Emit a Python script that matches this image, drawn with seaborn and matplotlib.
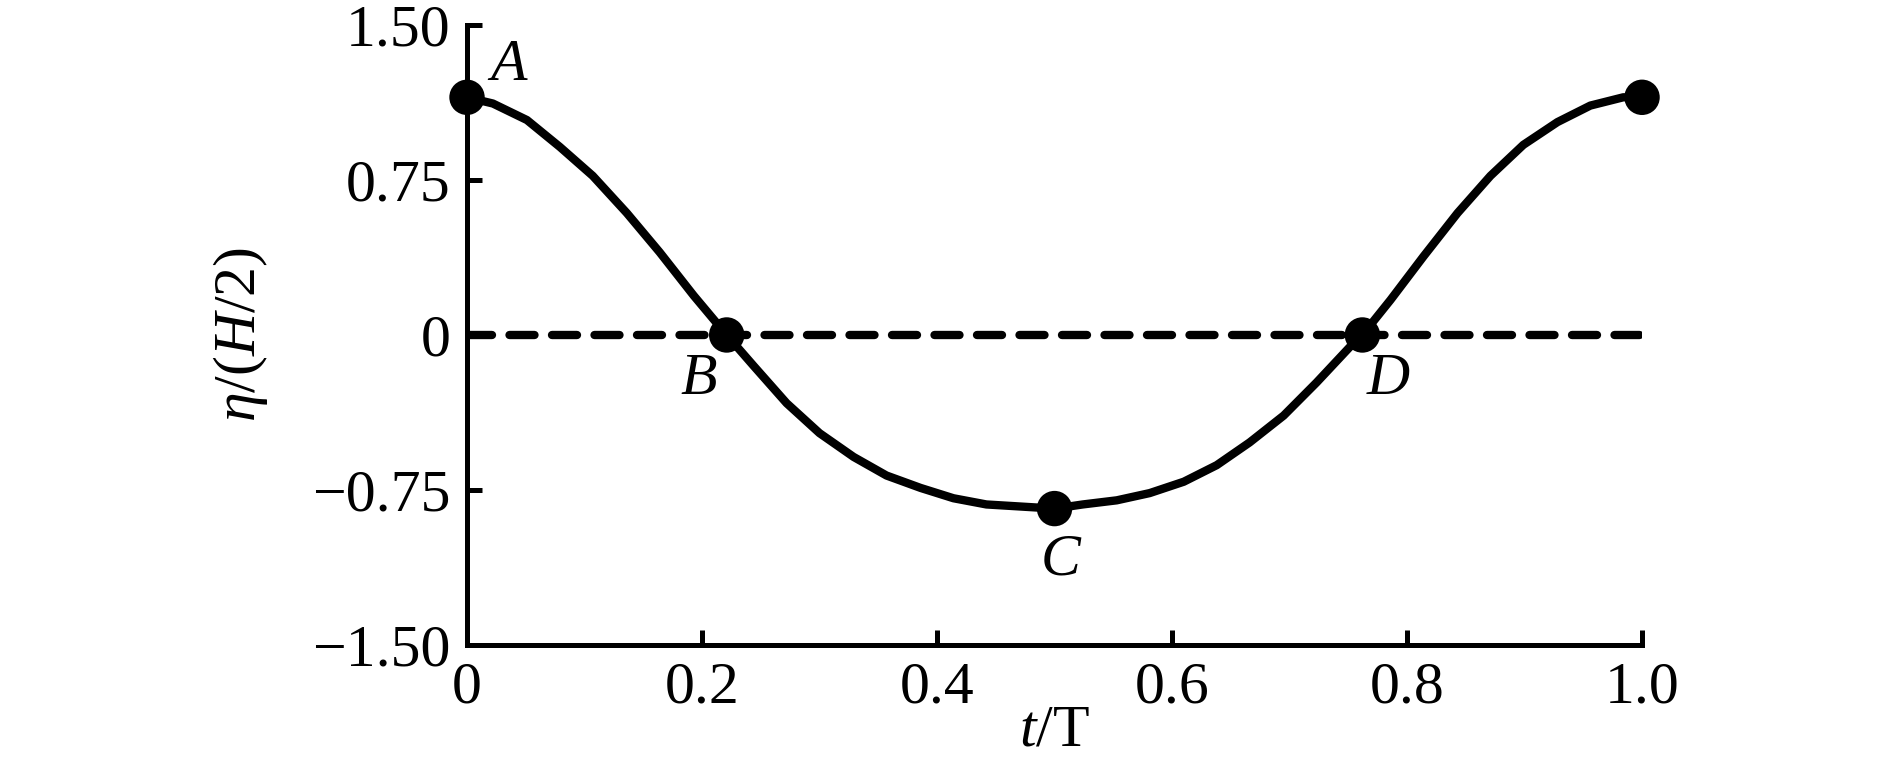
import matplotlib
matplotlib.use("Agg")
import matplotlib.pyplot as plt
import seaborn as sns
import pandas as pd

# Curve: t/T vs eta/(H/2)
t_vals = [0.0, 0.022, 0.051, 0.079, 0.107, 0.136, 0.164, 0.193, 0.221,
          0.244, 0.272, 0.300, 0.329, 0.357, 0.386, 0.414, 0.442, 0.471, 0.50,
          0.524, 0.553, 0.581, 0.610, 0.638, 0.666, 0.695, 0.723, 0.751, 0.762,
          0.786, 0.814, 0.843, 0.871, 0.899, 0.928, 0.956, 0.984, 1.0]
eta_vals = [1.15, 1.12, 1.04, 0.91, 0.77, 0.59, 0.40, 0.19, 0.0,
            -0.15, -0.33, -0.475, -0.59, -0.68, -0.74, -0.79, -0.82, -0.83, -0.84,
            -0.82, -0.80, -0.765, -0.71, -0.63, -0.52, -0.39, -0.23, -0.06, 0.0,
            0.17, 0.38, 0.59, 0.77, 0.92, 1.03, 1.11, 1.15, 1.15]

# Marked points
point_t = [0.0, 0.221, 0.50, 0.762, 1.0]
point_eta = [1.15, 0.0, -0.84, 0.0, 1.15]

# Letter labels next to the points
letters = ["A", "B", "C", "D"]
letter_t = [0.035, 0.197, 0.505, 0.784]
letter_eta = [1.30, -0.22, -1.09, -0.22]

x_ticks = [0, 0.2, 0.4, 0.6, 0.8, 1.0]
x_ticklabels = ["0", "0.2", "0.4", "0.6", "0.8", "1.0"]
y_ticks = [-1.5, -0.75, 0, 0.75, 1.5]
y_ticklabels = ["\u22121.50", "\u22120.75", "0", "0.75", "1.50"]

sns.set_style("ticks")
plt.rcParams["font.family"] = ["Liberation Serif", "DejaVu Serif"]
plt.rcParams["mathtext.fontset"] = "custom"
plt.rcParams["mathtext.rm"] = "Liberation Serif"
plt.rcParams["mathtext.it"] = "Liberation Serif:italic"
plt.rcParams["text.color"] = "black"
plt.rcParams["axes.labelcolor"] = "black"

FS = 43
LW = 6

curve = pd.DataFrame({"t": t_vals, "eta": eta_vals})
pts = pd.DataFrame({"t": point_t, "eta": point_eta})

fig = plt.figure(figsize=(18.9, 7.73), dpi=100)
ax = fig.add_axes([0.2471, 0.1656, 0.8688 - 0.2471, 0.9677 - 0.1656])

ax.axhline(0, color="black", lw=LW, ls=(0, (3.0, 2.1)), dash_capstyle="round", zorder=1)
sns.lineplot(data=curve, x="t", y="eta", ax=ax, color="black", lw=LW,
             sort=False, solid_capstyle="round", solid_joinstyle="round", zorder=2)
sns.scatterplot(data=pts, x="t", y="eta", ax=ax, color="black", s=650,
                edgecolor="none", clip_on=False, zorder=3)

for lab, tx, ty in zip(letters, letter_t, letter_eta):
    ax.text(tx, ty, lab, fontsize=FS, style="italic", ha="center", va="center")

ax.set_xlim(0, 1.0)
ax.set_ylim(-1.5, 1.5)
ax.set_xticks(x_ticks)
ax.set_xticklabels(x_ticklabels)
ax.set_yticks(y_ticks)
ax.set_yticklabels(y_ticklabels)
ax.tick_params(direction="in", length=11, width=3.6, labelsize=FS, colors="black")
ax.tick_params(axis="x", pad=12)
ax.tick_params(axis="y", pad=12)

for side in ["top", "right"]:
    ax.spines[side].set_visible(False)
for side in ["left", "bottom"]:
    ax.spines[side].set_linewidth(3.6)
    ax.spines[side].set_color("black")

ax.set_xlabel(r"$t$/T", fontsize=FS, labelpad=-8)
ax.set_ylabel(r"$\eta$/($H$/2)", fontsize=FS, labelpad=30)

fig.savefig("out.png", dpi=100)
